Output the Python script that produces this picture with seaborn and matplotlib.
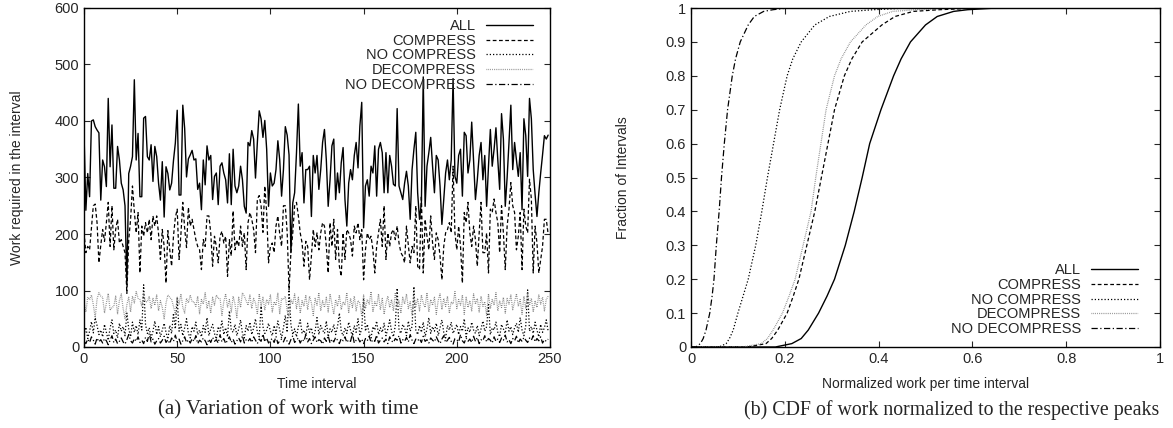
import numpy as np
import pandas as pd
import matplotlib
matplotlib.use("Agg")
import matplotlib.pyplot as plt
import seaborn as sns

# ---- data (left panel: work per time interval) ----
time_interval = np.arange(250)

all_work = [
    380, 242, 307, 266, 400, 402, 390, 384, 379, 260,
    331, 319, 284, 440, 319, 393, 281, 281, 355, 331,
    290, 278, 250, 110, 307, 320, 337, 473, 331, 378,
    266, 266, 405, 408, 337, 331, 358, 293, 355, 337,
    290, 260, 328, 230, 319, 307, 278, 290, 330, 361,
    419, 269, 269, 428, 387, 301, 333, 340, 348, 331,
    333, 279, 290, 243, 331, 287, 356, 331, 339, 261,
    302, 308, 252, 320, 326, 308, 296, 255, 342, 252,
    350, 285, 273, 285, 320, 296, 249, 237, 362, 356,
    383, 368, 299, 362, 418, 404, 371, 401, 350, 249,
    308, 285, 290, 314, 365, 331, 267, 314, 390, 375,
    340, 167, 255, 273, 344, 430, 320, 344, 255, 314,
    314, 320, 231, 339, 308, 339, 279, 314, 362, 385,
    331, 249, 296, 356, 368, 261, 308, 273, 326, 353,
    261, 214, 290, 314, 296, 339, 362, 317, 391, 433,
    211, 285, 296, 267, 320, 308, 356, 267, 350, 362,
    344, 273, 344, 273, 339, 320, 288, 285, 422, 285,
    273, 261, 290, 311, 285, 226, 314, 350, 380, 273,
    226, 255, 478, 249, 320, 344, 371, 320, 273, 339,
    331, 285, 217, 261, 308, 331, 296, 331, 475, 302,
    290, 339, 350, 267, 380, 374, 308, 331, 398, 331,
    261, 296, 339, 362, 296, 339, 249, 320, 385, 320,
    350, 388, 331, 279, 413, 368, 249, 300, 362, 428,
    314, 362, 331, 302, 344, 243, 404, 374, 302, 440,
    404, 314, 270, 231, 273, 308, 340, 374, 368, 375,
]

compress = [
    203, 167, 178, 172, 210, 250, 253, 220, 149, 180,
    208, 187, 220, 256, 178, 250, 172, 208, 226, 184,
    190, 178, 167, 95, 190, 226, 285, 240, 202, 238,
    131, 214, 196, 220, 202, 226, 190, 232, 214, 232,
    200, 155, 208, 178, 113, 206, 172, 143, 196, 229,
    244, 155, 200, 256, 210, 176, 247, 214, 226, 208,
    190, 178, 172, 137, 190, 178, 232, 232, 202, 143,
    196, 178, 149, 196, 205, 184, 196, 125, 190, 161,
    241, 172, 190, 178, 214, 178, 202, 137, 220, 238,
    226, 208, 167, 262, 268, 250, 203, 285, 238, 149,
    178, 184, 167, 214, 232, 200, 178, 250, 250, 203,
    101, 167, 202, 250, 256, 232, 202, 184, 143, 187,
    178, 119, 161, 208, 178, 202, 172, 202, 220, 214,
    178, 131, 220, 178, 226, 155, 208, 143, 125, 202,
    155, 208, 202, 190, 161, 214, 202, 220, 190, 208,
    119, 172, 202, 190, 196, 172, 131, 178, 202, 226,
    178, 250, 155, 202, 178, 202, 208, 190, 214, 184,
    167, 161, 149, 214, 180, 149, 178, 167, 250, 143,
    137, 268, 131, 226, 196, 172, 232, 184, 155, 202,
    190, 161, 119, 178, 202, 208, 220, 202, 320, 202,
    172, 214, 178, 113, 238, 220, 256, 202, 178, 214,
    190, 143, 202, 256, 167, 167, 202, 131, 244, 238,
    262, 238, 220, 167, 250, 202, 137, 214, 244, 291,
    250, 238, 172, 196, 238, 137, 244, 214, 202, 297,
    262, 131, 214, 184, 131, 155, 178, 226, 226, 200,
]

no_compress = [
    20, 35, 15, 28, 45, 25, 52, 38, 22, 30,
    18, 40, 26, 12, 34, 48, 24, 30, 16, 42,
    28, 36, 20, 60, 32, 18, 44, 26, 38, 22,
    48, 30, 110, 40, 24, 34, 16, 28, 46, 22,
    36, 18, 30, 42, 26, 14, 38, 24, 60, 32,
    86, 28, 40, 20, 34, 50, 24, 16, 36, 28,
    44, 22, 30, 18, 38, 26, 52, 20, 32, 40,
    24, 14, 36, 28, 46, 22, 34, 18, 64, 30,
    26, 40, 20, 32, 48, 24, 16, 38, 28, 44,
    22, 34, 50, 26, 18, 72, 36, 24, 30, 42,
    28, 20, 38, 24, 46, 30, 16, 34, 56, 26,
    101, 40, 22, 32, 18, 36, 48, 24, 30, 20,
    42, 26, 34, 16, 28, 52, 22, 38, 30, 24,
    46, 18, 32, 26, 40, 22, 36, 60, 28, 20,
    34, 24, 44, 30, 18, 38, 26, 50, 22, 32,
    86, 28, 40, 24, 16, 36, 30, 46, 22, 34,
    26, 42, 20, 32, 48, 28, 18, 38, 104, 30,
    24, 40, 34, 20, 46, 28, 36, 107, 30, 22,
    38, 26, 44, 18, 32, 52, 24, 36, 28, 42,
    20, 34, 48, 26, 16, 38, 30, 44, 24, 32,
    40, 22, 36, 28, 50, 18, 34, 26, 44, 30,
    24, 38, 20, 32, 46, 28, 36, 75, 22, 34,
    30, 44, 26, 18, 40, 32, 24, 48, 28, 36,
    22, 34, 42, 26, 52, 30, 20, 38, 101, 28,
    36, 24, 44, 30, 18, 40, 26, 34, 48, 28,
]

decompress = [
    80, 62, 88, 84, 92, 75, 52, 85, 96, 90,
    88, 60, 78, 95, 65, 70, 72, 90, 58, 82,
    94, 68, 50, 75, 88, 62, 90, 78, 98, 86,
    84, 72, 95, 80, 80, 90, 68, 86, 74, 92,
    64, 82, 70, 50, 78, 92, 88, 84, 72, 58,
    88, 76, 94, 70, 60, 86, 78, 92, 80, 80,
    72, 90, 58, 84, 76, 96, 68, 82, 60, 88,
    74, 92, 86, 86, 56, 80, 94, 70, 84, 62,
    90, 76, 52, 88, 70, 96, 90, 82, 74, 92,
    68, 86, 78, 58, 94, 72, 88, 66, 84, 76,
    92, 62, 80, 74, 96, 58, 86, 84, 90, 64,
    52, 84, 76, 94, 68, 88, 60, 82, 72, 92,
    66, 90, 78, 56, 86, 74, 96, 64, 82, 70,
    88, 62, 94, 76, 58, 84, 72, 92, 66, 80,
    74, 96, 60, 86, 70, 90, 64, 82, 78, 54,
    92, 68, 84, 76, 98, 62, 80, 72, 94, 66,
    86, 58, 78, 90, 70, 84, 64, 96, 74, 82,
    60, 88, 76, 94, 68, 80, 56, 90, 72, 86,
    64, 92, 78, 70, 96, 62, 84, 74, 88, 58,
    82, 94, 66, 86, 72, 90, 60, 80, 76, 98,
    68, 84, 74, 92, 58, 88, 70, 82, 64, 94,
    76, 86, 62, 90, 72, 80, 56, 94, 68, 84,
    74, 96, 64, 82, 70, 88, 60, 86, 76, 92,
    66, 80, 94, 72, 84, 58, 90, 68, 96, 74,
    86, 62, 82, 70, 92, 76, 88, 64, 84, 90,
]

no_decompress = [
    10, 6, 14, 8, 18, 12, 5, 16, 9, 13,
    7, 15, 11, 4, 12, 20, 8, 14, 6, 10,
    16, 9, 5, 13, 22, 11, 7, 15, 10, 18,
    8, 12, 6, 17, 10, 24, 9, 14, 5, 11,
    15, 7, 12, 19, 8, 13, 6, 16, 10, 21,
    9, 14, 5, 11, 18, 8, 13, 7, 15, 10,
    20, 6, 12, 9, 16, 11, 4, 14, 8, 17,
    10, 13, 7, 22, 9, 15, 6, 12, 18, 8,
    14, 5, 11, 16, 9, 20, 7, 13, 10, 15,
    8, 18, 12, 6, 14, 10, 23, 9, 16, 7,
    12, 15, 8, 19, 6, 11, 14, 9, 17, 10,
    5, 13, 20, 8, 12, 16, 7, 14, 10, 22,
    9, 15, 6, 12, 18, 8, 13, 11, 5, 16,
    10, 20, 7, 14, 9, 17, 12, 6, 15, 11,
    18, 8, 13, 10, 24, 7, 12, 16, 9, 14,
    6, 15, 11, 19, 8, 13, 10, 21, 7, 12,
    16, 9, 14, 6, 18, 11, 8, 15, 12, 20,
    7, 13, 10, 17, 9, 22, 12, 6, 14, 11,
    15, 8, 19, 10, 13, 7, 16, 12, 9, 18,
    11, 6, 14, 20, 8, 12, 17, 10, 5, 15,
    13, 9, 22, 11, 7, 16, 10, 14, 8, 19,
    10, 17, 6, 13, 11, 20, 9, 15, 12, 7,
    18, 10, 14, 8, 16, 12, 21, 9, 13, 6,
    15, 11, 19, 7, 14, 10, 17, 12, 8, 16,
    12, 20, 9, 15, 11, 18, 7, 13, 10, 14,
]

# ---- right panel: CDF read at fixed fractions ----
cdf_fraction = [0, 0, 0.01, 0.025, 0.05, 0.1, 0.15, 0.2, 0.3, 0.4, 0.5, 0.6, 0.7, 0.8, 0.85,
                0.9, 0.95, 0.975, 0.99, 0.995, 0.999, 1.0]
cdf_all = [0, 0.18, 0.215, 0.235, 0.25, 0.272, 0.29, 0.306, 0.329, 0.348, 0.365, 0.381, 0.405,
           0.432, 0.448, 0.468, 0.50, 0.525, 0.56, 0.59, 0.64, 1.0]
cdf_compress = [0, 0.12, 0.16, 0.172, 0.185, 0.205, 0.218, 0.23, 0.247, 0.264, 0.278, 0.292, 0.306,
                0.327, 0.343, 0.365, 0.407, 0.435, 0.474, 0.53, 0.60, 1.0]
cdf_no_compress = [0, 0.06, 0.075, 0.082, 0.09, 0.10, 0.111, 0.122, 0.138, 0.151, 0.163, 0.176, 0.189,
                   0.205, 0.217, 0.235, 0.264, 0.295, 0.34, 0.39, 0.45, 1.0]
cdf_decompress = [0, 0.11, 0.15, 0.163, 0.175, 0.195, 0.209, 0.222, 0.239, 0.256, 0.266, 0.277, 0.288,
                  0.306, 0.32, 0.34, 0.373, 0.398, 0.43, 0.48, 0.55, 1.0]
cdf_no_decompress = [0, 0.01, 0.02, 0.026, 0.032, 0.04, 0.045, 0.049, 0.054, 0.06, 0.065, 0.071, 0.078,
                     0.088, 0.095, 0.105, 0.122, 0.135, 0.155, 0.175, 0.20, 1.0]

names = ["ALL", "COMPRESS", "NO COMPRESS", "DECOMPRESS", "NO DECOMPRESS"]
series = [all_work, compress, no_compress, decompress, no_decompress]
cdfs = [cdf_all, cdf_compress, cdf_no_compress, cdf_decompress, cdf_no_decompress]
styles = {
    "ALL": dict(color="black", ls="-", lw=1.0),
    "COMPRESS": dict(color="black", ls=(0, (3, 2)), lw=0.9),
    "NO COMPRESS": dict(color="black", ls=(0, (1, 1.6)), lw=0.9),
    "DECOMPRESS": dict(color="#808080", ls=(0, (0.6, 0.9)), lw=0.9),
    "NO DECOMPRESS": dict(color="black", ls=(0, (5, 2, 1, 2)), lw=0.9),
}

sns.set_style("ticks")
plt.rcParams["font.family"] = ["Liberation Sans", "DejaVu Sans"]

fig = plt.figure(figsize=(11.73, 4.28), dpi=100)
ax1 = fig.add_axes([84 / 1173, 81 / 428, 466 / 1173, 339 / 428])
ax2 = fig.add_axes([691 / 1173, 81 / 428, 469 / 1173, 339 / 428])

for name, vals in zip(names, series):
    st = styles[name]
    sns.lineplot(x=time_interval, y=vals, ax=ax1, color=st["color"], linestyle=st["ls"],
                 linewidth=st["lw"], label=name)

for name, xs in zip(names, cdfs):
    st = styles[name]
    sns.lineplot(x=xs, y=cdf_fraction, ax=ax2, color=st["color"], linestyle=st["ls"],
                 linewidth=st["lw"], label=name, sort=False, estimator=None,
                 solid_joinstyle="round", dash_joinstyle="round")

ax1.set_xlim(0, 250)
ax1.set_ylim(0, 600)
ax1.set_xticks(range(0, 251, 50))
ax1.set_yticks(range(0, 601, 100))
ax1.set_xlabel("Time interval", fontsize=10, labelpad=8)
ax1.set_ylabel("Work required in the interval", fontsize=10, labelpad=22)

ax2.set_xlim(0, 1)
ax2.set_ylim(0, 1)
ax2.set_xticks(np.linspace(0, 1, 6))
ax2.set_xticklabels(["0", "0.2", "0.4", "0.6", "0.8", "1"])
ax2.set_yticks(np.linspace(0, 1, 11))
ax2.set_yticklabels(["0"] + [f"{v / 10:.1f}" for v in range(1, 10)] + ["1"])
ax2.set_xlabel("Normalized work per time interval", fontsize=10, labelpad=8)
ax2.set_ylabel("Fraction of Intervals", fontsize=10, labelpad=26)

for ax in (ax1, ax2):
    ax.tick_params(direction="in", top=True, right=True, length=4, width=0.8, labelsize=10.5)
    for sp in ax.spines.values():
        sp.set_visible(True)
        sp.set_linewidth(1.0)
        sp.set_color("black")

leg1 = ax1.legend(loc="upper right", bbox_to_anchor=(0.975, 0.985), frameon=False, markerfirst=False,
                  fontsize=10.5, handlelength=3.2, handletextpad=0.7, labelspacing=0.05, borderaxespad=0)
leg2 = ax2.legend(loc="lower right", bbox_to_anchor=(0.965, 0.015), frameon=False, markerfirst=False,
                  fontsize=10.5, handlelength=3.2, handletextpad=0.7, labelspacing=0.05, borderaxespad=0)

fig.text(288 / 1173, 1 - 410 / 428, "(a) Variation of work with time", ha="center", va="center",
         fontsize=15, family=["Liberation Serif", "DejaVu Serif"])
fig.text(952 / 1173, 1 - 410 / 428, "(b) CDF of work normalized to the respective peaks", ha="center",
         va="center", fontsize=14.3, family=["Liberation Serif", "DejaVu Serif"])

fig.savefig("out.png", dpi=100)
